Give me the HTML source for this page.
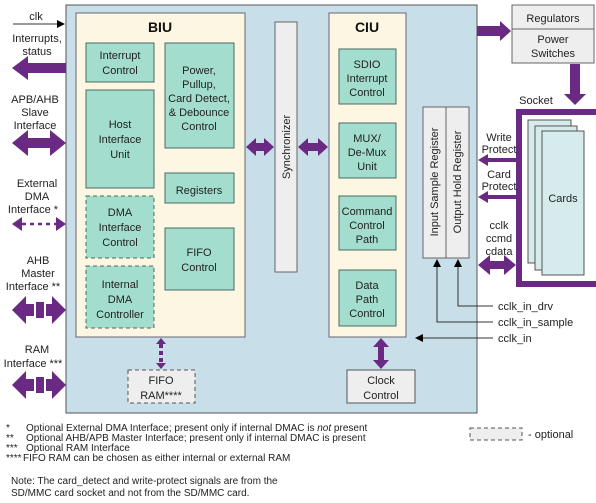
<!DOCTYPE html>
<html><head><meta charset="utf-8"><style>
html,body{margin:0;padding:0;background:#fff;}
svg{display:block;font-family:"Liberation Sans",Arial,sans-serif;}
</style></head><body>
<svg width="596" height="503" viewBox="0 0 596 503" xmlns="http://www.w3.org/2000/svg">
<defs>
<marker id="ah" markerWidth="8" markerHeight="8" refX="7" refY="4" orient="auto" markerUnits="userSpaceOnUse"><path d="M0,0 L8,4 L0,8 z" fill="#000"/></marker>
</defs>
<g font-size="11" fill="#222" text-anchor="middle">
<!-- main box -->
<rect x="66" y="5" width="411" height="408" fill="#c8dfe9" stroke="#555" stroke-width="1"/>
<!-- BIU -->
<rect x="76" y="13" width="169" height="324" fill="#fdf6e2" stroke="#667" stroke-width="1"/>
<text x="160" y="32" font-size="14" font-weight="bold" fill="#111">BIU</text>
<g fill="#a3ddcd" stroke="#4a6a60" stroke-width="1">
<rect x="86" y="43" width="68" height="39"/>
<rect x="86" y="90" width="68" height="98"/>
<rect x="165" y="43" width="69" height="105"/>
<rect x="165" y="173" width="69" height="30"/>
<rect x="165" y="228" width="69" height="62"/>
<rect x="86" y="196" width="68" height="62" stroke-dasharray="4,3"/>
<rect x="86" y="266" width="68" height="62" stroke-dasharray="4,3"/>
</g>
<text x="120" y="59">Interrupt</text><text x="120" y="74">Control</text>
<text x="120" y="128">Host</text><text x="120" y="143">Interface</text><text x="120" y="158">Unit</text>
<text x="120" y="216">DMA</text><text x="120" y="231">Interface</text><text x="120" y="246">Control</text>
<text x="120" y="288">Internal</text><text x="120" y="303">DMA</text><text x="120" y="318">Controller</text>
<text x="199" y="74">Power,</text><text x="199" y="88">Pullup,</text><text x="199" y="102">Card Detect,</text><text x="199" y="116">&amp; Debounce</text><text x="199" y="130">Control</text>
<text x="199" y="194">Registers</text>
<text x="199" y="256">FIFO</text><text x="199" y="271">Control</text>
<!-- synchronizer -->
<rect x="275" y="22" width="22" height="250" fill="#eeeeee" stroke="#666"/>
<text transform="translate(290,147) rotate(-90)">Synchronizer</text>
<!-- CIU -->
<rect x="329" y="13" width="77" height="324" fill="#fdf6e2" stroke="#667"/>
<text x="367" y="32" font-size="14" font-weight="bold" fill="#111">CIU</text>
<g fill="#a3ddcd" stroke="#4a6a60">
<rect x="339" y="49" width="57" height="55"/>
<rect x="339" y="123" width="57" height="55"/>
<rect x="339" y="196" width="57" height="54"/>
<rect x="339" y="270" width="57" height="56"/>
</g>
<text x="367" y="68">SDIO</text><text x="367" y="82">Interrupt</text><text x="367" y="96">Control</text>
<text x="367" y="142">MUX/</text><text x="367" y="156">De-Mux</text><text x="367" y="170">Unit</text>
<text x="367" y="215">Command</text><text x="367" y="229">Control</text><text x="367" y="243">Path</text>
<text x="367" y="289">Data</text><text x="367" y="303">Path</text><text x="367" y="317">Control</text>
<!-- registers -->
<rect x="423" y="107" width="46" height="151" fill="#eeeeee" stroke="#666"/>
<line x1="446" y1="107" x2="446" y2="258" stroke="#666"/>
<text transform="translate(438,182) rotate(-90)">Input Sample Register</text>
<text transform="translate(461,182) rotate(-90)">Output Hold Register</text>
<!-- clock control & fifo ram -->
<rect x="347" y="370" width="68" height="33" fill="#eeeeee" stroke="#555"/>
<text x="381" y="384">Clock</text><text x="381" y="399">Control</text>
<rect x="128" y="370" width="67" height="33" fill="#eeeeee" stroke="#555" stroke-dasharray="4,3"/>
<text x="161" y="384">FIFO</text><text x="161" y="399">RAM****</text>
<!-- regulators -->
<rect x="512" y="5" width="82" height="58" fill="#eeeeee" stroke="#666"/>
<line x1="512" y1="29" x2="594" y2="29" stroke="#666"/>
<text x="553" y="22">Regulators</text>
<text x="553" y="43">Power</text><text x="553" y="57">Switches</text>
<!-- socket & cards -->
<text x="536" y="104">Socket</text>
<path d="M596,109 H516 V287 H596 V281 H522 V115 H596 z" fill="#6a2a84"/>
<g fill="#d6ecec" stroke="#555">
<rect x="528" y="120" width="43" height="143"/>
<rect x="535" y="126" width="42" height="144"/>
<rect x="542" y="131" width="42" height="144"/>
</g>
<text x="563" y="202">Cards</text>
<text x="499" y="141">Write</text><text x="499" y="153">Protect</text>
<text x="499" y="178">Card</text><text x="499" y="190">Protect</text>
<text x="499" y="229">cclk</text><text x="499" y="242">ccmd</text><text x="499" y="255">cdata</text>
<!-- purple arrows -->
<g fill="#6a2a84">
<!-- to regulators -->
<path d="M477,26 H500 V21 L511,31 L500,41 V36 H477 z"/>
<!-- regulators to socket -->
<path d="M570,64 H580 V94 H586 L575,105 L564,94 H570 z"/>
<!-- write protect -->
<path d="M516,158 H488 V154 L478,160 L488,166 V162 H516 z"/>
<path d="M516,195 H488 V191 L478,197 L488,203 V199 H516 z"/>
<!-- cclk bidir -->
<path d="M478,265 L490,255 V261 H504 V255 L516,265 L504,275 V269 H490 V275 z"/>
<!-- synchronizer arrows -->
<path d="M246,147 L256,138 V143 H264 V138 L274,147 L264,156 V151 H256 V156 z"/>
<path d="M298,147 L308,138 V143 H318 V138 L328,147 L318,156 V151 H308 V156 z"/>
<!-- clock control bidir vertical -->
<path d="M381,338 L389,347 H384 V360 H389 L381,369 L373,360 H378 V347 H373 z"/>
<!-- interrupts -->
<path d="M66,63 H28 V56 L12,68 L28,80 V73 H66 z"/>
<!-- APB/AHB -->
<path d="M12,143 L28,130 V138 H50 V130 L66,143 L50,156 V148 H28 V156 z"/>
<!-- external DMA dashed -->
<path d="M12,224 L22,217 V231 z"/><path d="M66,224 L56,217 V231 z"/>
<!-- AHB master -->
<path d="M12,310 L26,296 V324 z"/><rect x="26" y="304" width="8" height="12"/><rect x="36" y="302" width="8" height="16"/><rect x="46" y="304" width="6" height="12"/><path d="M66,310 L52,296 V324 z"/>
<!-- RAM -->
<path d="M12,385 L26,371 V399 z"/><rect x="26" y="379" width="8" height="12"/><rect x="36" y="377" width="8" height="16"/><rect x="46" y="379" width="6" height="12"/><path d="M66,385 L52,371 V399 z"/>
<!-- fifo ram dotted -->
<path d="M161,338 L166,344 H156 z"/><path d="M161,369 L166,363 H156 z"/>
</g>
<line x1="22" y1="224" x2="56" y2="224" stroke="#6a2a84" stroke-width="2.5" stroke-dasharray="4,4"/>
<line x1="161" y1="344" x2="161" y2="363" stroke="#6a2a84" stroke-width="4" stroke-dasharray="4,3"/>
<!-- thin lines -->
<g stroke="#333" stroke-width="1" fill="none">
<line x1="13" y1="24" x2="64" y2="24" marker-end="url(#ah)"/>
<path d="M493,306 H458 V260" marker-end="url(#ah)"/>
<path d="M493,322 H437 V260" marker-end="url(#ah)"/>
<line x1="493" y1="338" x2="416" y2="338" marker-end="url(#ah)"/>
</g>
<text x="36" y="20">clk</text>
<text x="37" y="42">Interrupts,</text><text x="37" y="55">status</text>
<text x="35" y="103">APB/AHB</text><text x="35" y="116">Slave</text><text x="35" y="129">Interface</text>
<text x="37" y="187">External</text><text x="37" y="200">DMA</text><text x="33" y="213">Interface *</text>
<text x="38" y="264">AHB</text><text x="38" y="277">Master</text><text x="33" y="290">Interface **</text>
<text x="37" y="353">RAM</text><text x="33" y="367">Interface ***</text>
<g text-anchor="start">
<text x="498" y="310">cclk_in_drv</text>
<text x="498" y="326">cclk_in_sample</text>
<text x="498" y="342">cclk_in</text>
</g>
<!-- legend -->
<rect x="470" y="428" width="52" height="12" fill="#eeeeee" stroke="#555" stroke-dasharray="4,3"/>
<text x="528" y="438" text-anchor="start">- optional</text>
<g font-size="10" text-anchor="start">
<text x="6" y="431">*</text><text x="26" y="431">Optional External DMA Interface; present only if internal DMAC is <tspan font-style="italic">not</tspan> present</text>
<text x="6" y="441">**</text><text x="26" y="441">Optional AHB/APB Master Interface; present only if internal DMAC is present</text>
<text x="6" y="451">***</text><text x="26" y="451">Optional RAM Interface</text>
<text x="6" y="461">****</text><text x="23" y="461">FIFO RAM can be chosen as either internal or external RAM</text>
<text x="11" y="484">Note: The card_detect and write-protect signals are from the</text>
<text x="11" y="496">SD/MMC card socket and not from the SD/MMC card.</text>
</g>
</g>
</svg>
</body></html>
